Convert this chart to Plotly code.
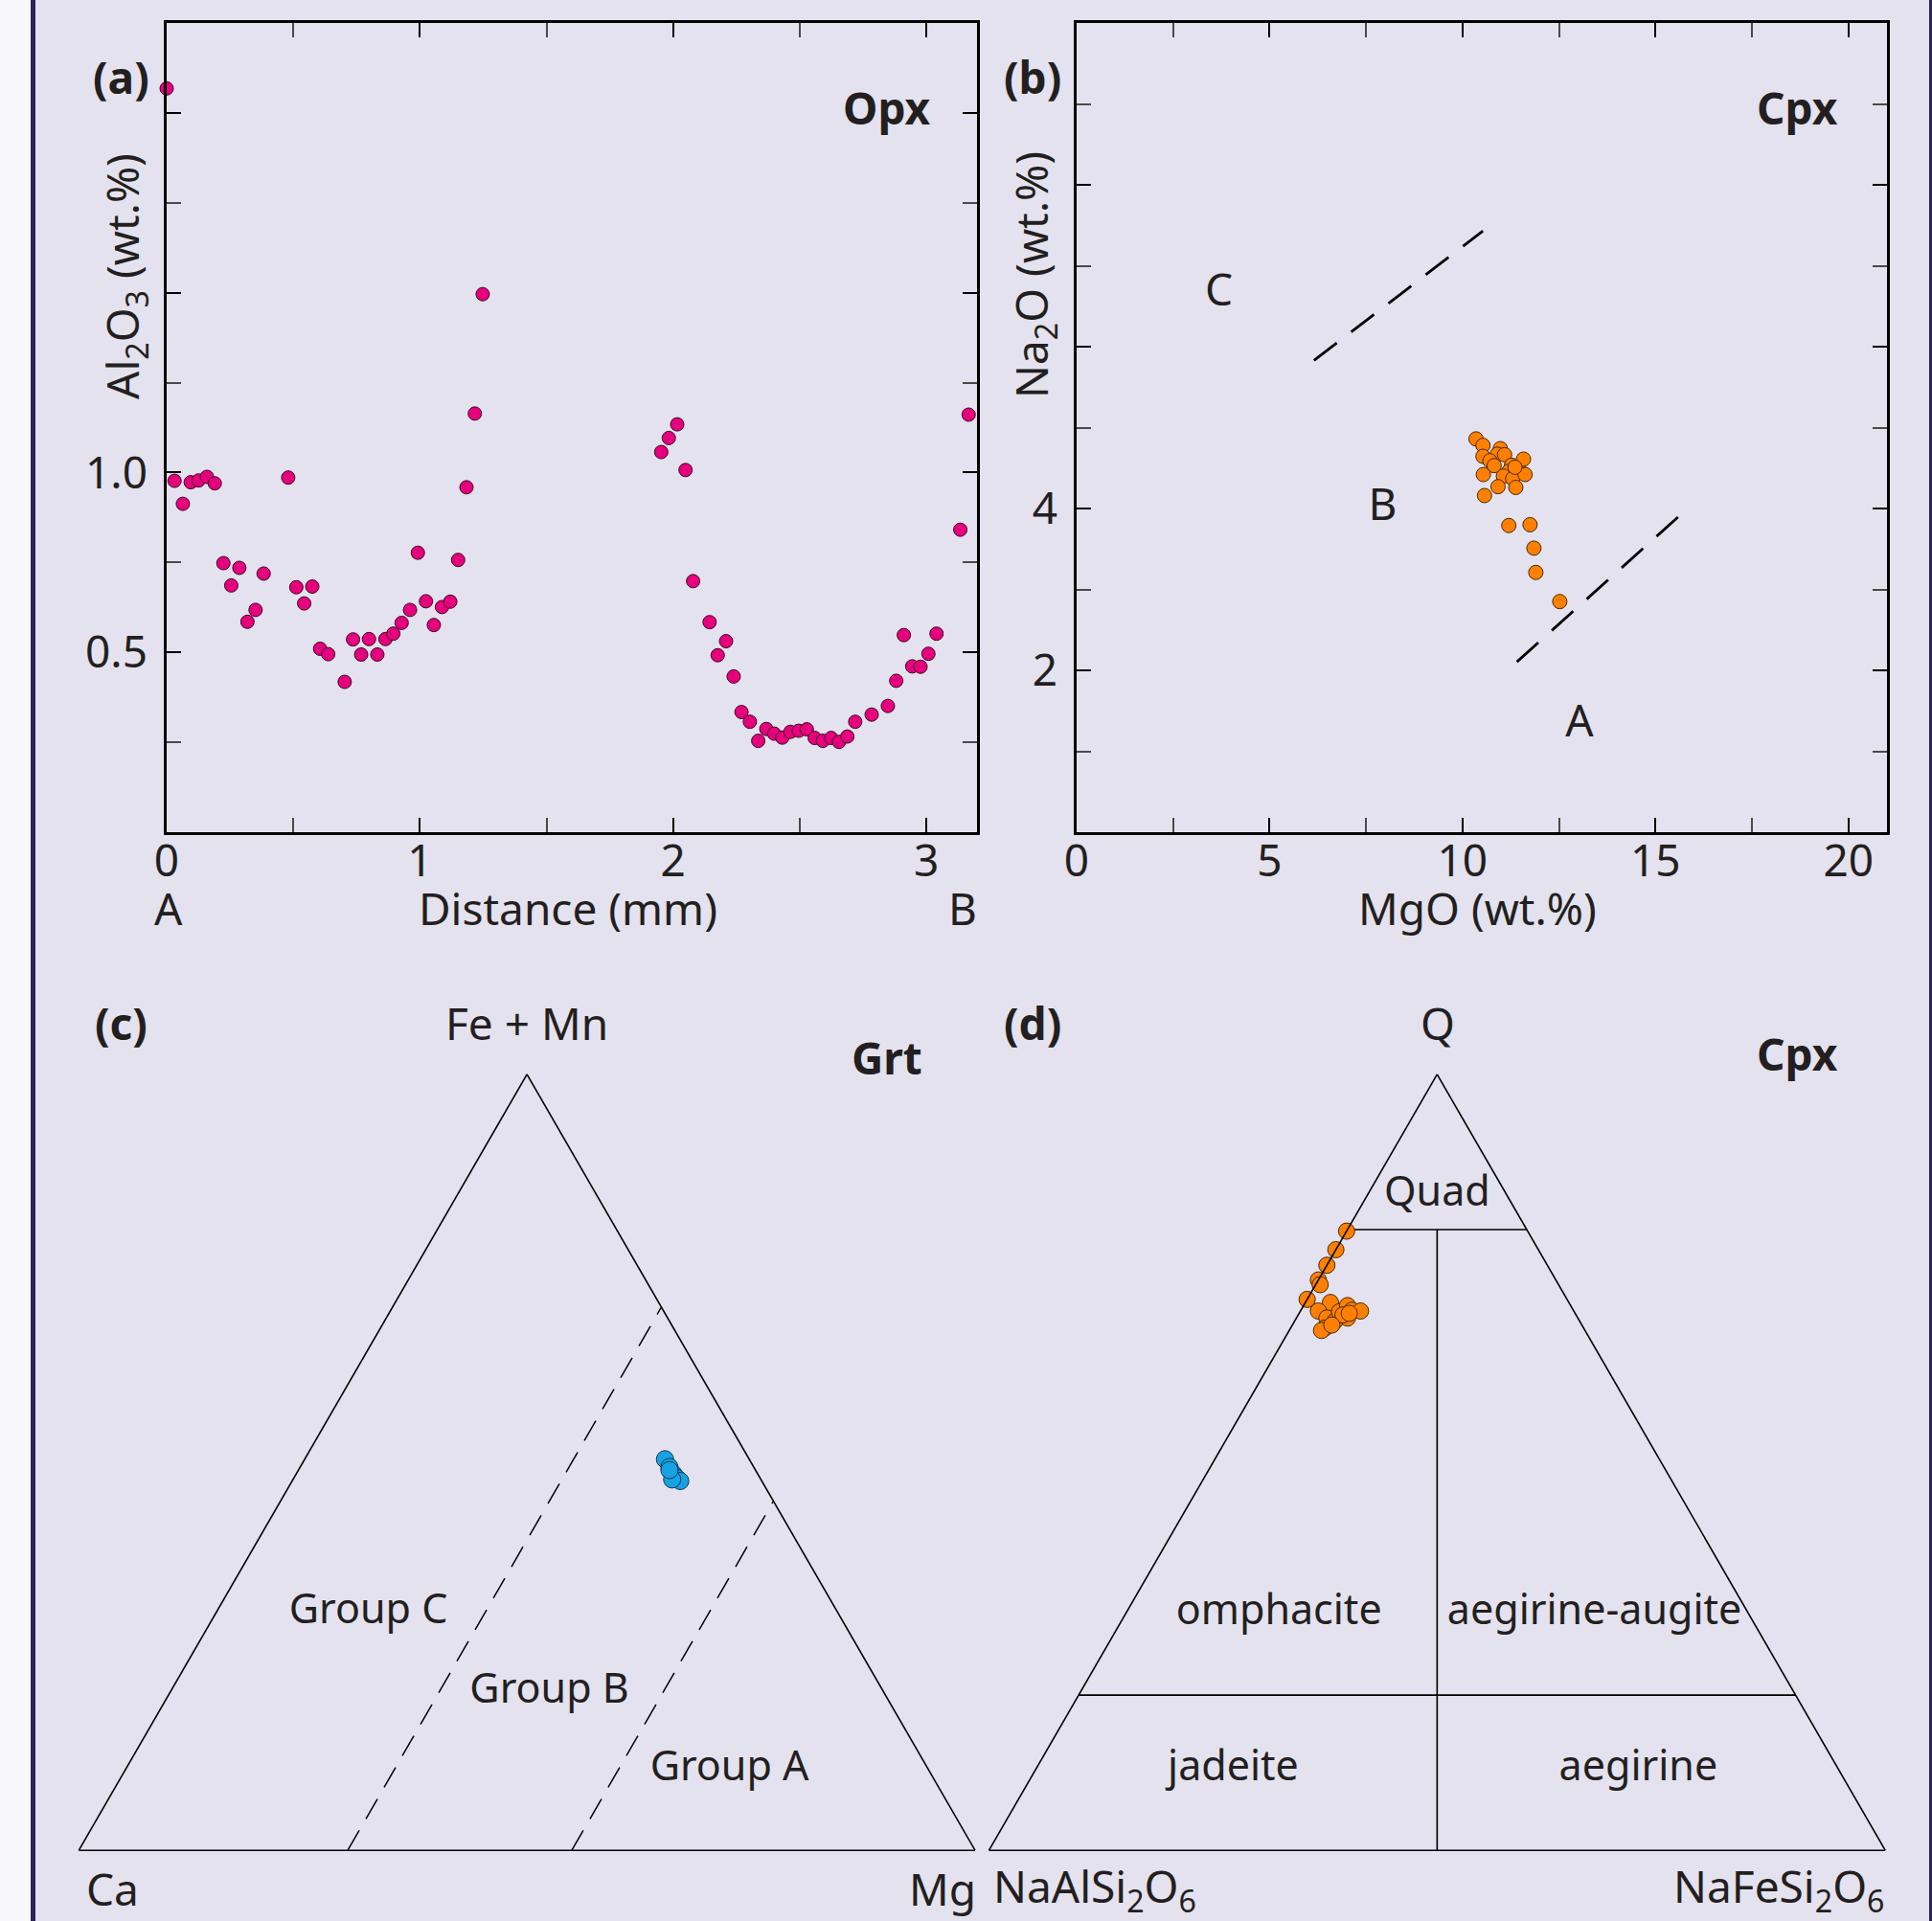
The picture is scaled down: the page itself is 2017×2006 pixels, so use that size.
import plotly.graph_objects as go

W, H = 2017, 2006
FONT = "Noto Sans"
TXT = "#231f20"
BG = "#e4e2ee"

# ---------------- Panel (a): Opx Al2O3 profile ----------------
dist_mm = [0, 0.031, 0.064, 0.095, 0.126, 0.159, 0.19, 0.224, 0.255, 0.287, 0.319, 0.351, 0.383,
           0.480, 0.512, 0.543, 0.575, 0.606, 0.638, 0.703, 0.736, 0.768, 0.799, 0.832, 0.864,
           0.895, 0.928, 0.961, 0.992, 1.024, 1.055, 1.087, 1.12, 1.151, 1.184, 1.217, 1.248,
           1.953, 1.983, 2.016, 2.049, 2.079, 2.144, 2.176, 2.209, 2.239, 2.27, 2.303, 2.336,
           2.368, 2.399, 2.431, 2.463, 2.496, 2.528, 2.559, 2.591, 2.624, 2.655, 2.688, 2.719,
           2.784, 2.848, 2.881, 2.911, 2.944, 2.977, 3.008, 3.04, 3.134, 3.167]
al2o3 = [2.068, 0.977, 0.913, 0.973, 0.978, 0.988, 0.970, 0.748, 0.686, 0.735, 0.585, 0.618, 0.719,
         0.986, 0.681, 0.636, 0.683, 0.51, 0.495, 0.418, 0.536, 0.494, 0.537, 0.494, 0.537,
         0.552, 0.582, 0.618, 0.777, 0.642, 0.576, 0.626, 0.641, 0.757, 0.959, 1.164, 1.496,
         1.057, 1.096, 1.134, 1.007, 0.698, 0.584, 0.492, 0.531, 0.433, 0.334, 0.307, 0.254,
         0.287, 0.274, 0.263, 0.279, 0.282, 0.286, 0.262, 0.254, 0.262, 0.251, 0.266, 0.307,
         0.327, 0.351, 0.421, 0.548, 0.461, 0.46, 0.496, 0.552, 0.841, 1.161]
a_x_range = [0, 3.2]
a_y_range = [0, 2.25]
a_x_ticks = [0, 1, 2, 3]
a_x_ticktext = ["0", "1", "2", "3"]
a_x_minor = [0.5, 1.5, 2.5]
a_y_ticks = [0, 0.5, 1.0, 1.5, 2.0]
a_y_ticktext = ["", "0.5", "1.0", "", ""]
a_y_minor = [0.25, 0.75, 1.25, 1.75]

# ---------------- Panel (b): Cpx Na2O vs MgO ----------------
mgo = [10.35, 10.53, 10.53, 10.98, 10.9, 11.09, 10.71, 10.82, 11.27, 11.45, 11.58, 11.2,
       11.06, 11.3, 11.62, 10.54, 10.92, 11.38, 10.57, 11.2, 11.75, 11.85, 11.9, 12.52, 11.36]
na2o = [4.86, 4.78, 4.645, 4.74, 4.67, 4.665, 4.59, 4.53, 4.535, 4.49, 4.61, 4.46,
        4.4, 4.37, 4.42, 4.42, 4.27, 4.26, 4.16, 3.79, 3.80, 3.51, 3.21, 2.85, 4.51]
b_div_upper_x = [6.15, 10.53]
b_div_upper_y = [5.83, 7.43]
b_div_lower_x = [11.41, 15.74]
b_div_lower_y = [2.105, 3.96]
b_field_labels = ["C", "B", "A"]
b_field_x = [3.69, 7.93, 13.03]
b_field_y = [6.65, 4.0, 1.32]
b_x_range = [0, 21]
b_y_range = [0, 10]
b_x_ticks = [0, 5, 10, 15, 20]
b_x_minor = [2.5, 7.5, 12.5, 17.5]
b_y_ticks = [0, 2, 4, 6, 8, 10]
b_y_ticktext = ["", "2", "4", "", "", ""]
b_y_minor = [1, 3, 5, 7, 9]

# ---------------- Panel (c): Grt ternary (Fe+Mn / Ca / Mg) ----------------
grt_femn = [50.4, 49.4, 48.5, 48.0, 47.6, 47.8, 49.0]
grt_ca = [9.4, 9.4, 9.4, 9.3, 9.1, 9.9, 9.6]
grt_mg = [40.2, 41.2, 42.1, 42.7, 43.3, 42.3, 41.4]
grt_line1 = dict(a=[0, 70], b=[70, 0], c=[30, 30])
grt_line2 = dict(a=[0, 45], b=[45, 0], c=[55, 55])
grt_labels = ["Group C", "Group B", "Group A"]
grt_lab_a = [30.6, 20.4, 10.4]
grt_lab_b = [52.4, 37.3, 22.2]
grt_lab_c = [17.0, 42.3, 67.4]

# ---------------- Panel (d): Cpx Q-Jd-Ae ternary ----------------
cpx_q = [79.8, 77.4, 75.4, 73.5, 72.9, 71.0, 70.6, 69.5, 68.6, 67.3, 68.2, 69.4, 70.2, 69.6,
         69.5, 68.6, 69.0, 67.0, 67.7, 69.2]
cpx_jd = [20.2, 22.6, 24.6, 26.5, 26.6, 29.0, 26.6, 28.5, 28.0, 28.9, 27.3, 26.2, 24.9, 24.7,
          23.8, 25.7, 26.0, 29.4, 27.9, 25.2]
cpx_ae = [0.0, 0.0, 0.0, 0.0, 0.5, 0.0, 2.8, 2.0, 3.4, 3.8, 4.5, 4.4, 4.9, 5.7,
          6.7, 5.7, 5.0, 3.6, 4.4, 5.6]
cpx_quad_line = dict(a=[80, 80], b=[20, 0], c=[0, 20])
cpx_mid_line = dict(a=[0, 80], b=[50, 10], c=[50, 10])
cpx_low_line = dict(a=[20, 20], b=[80, 0], c=[0, 80])
cpx_labels = ["Quad", "omphacite", "aegirine-augite", "jadeite", "aegirine"]
cpx_lab_a = [84.4, 30.5, 30.5, 10.3, 10.3]
cpx_lab_b = [7.8, 52.4, 17.2, 67.6, 22.4]
cpx_lab_c = [7.8, 17.1, 52.3, 22.1, 67.3]

# ---------------- helpers (pixel -> paper) ----------------
def px(x):
    return x / W


def py(y):
    return 1 - y / H


fig = go.Figure()

# (a)
fig.add_trace(go.Scatter(x=dist_mm, y=al2o3, mode="markers", xaxis="x", yaxis="y",
                         cliponaxis=False,
                         marker=dict(size=14, color="#e6007e", line=dict(color="#3a0820", width=1)),
                         showlegend=False))
# (b)
fig.add_trace(go.Scatter(x=b_div_upper_x, y=b_div_upper_y, mode="lines", xaxis="x2", yaxis="y2",
                         line=dict(color="black", width=2.8, dash="30px,19px"), showlegend=False))
fig.add_trace(go.Scatter(x=b_div_lower_x, y=b_div_lower_y, mode="lines", xaxis="x2", yaxis="y2",
                         line=dict(color="black", width=2.8, dash="30px,19px"), showlegend=False))
fig.add_trace(go.Scatter(x=b_field_x, y=b_field_y, mode="text", text=b_field_labels,
                         xaxis="x2", yaxis="y2", textposition="middle center",
                         textfont=dict(family=FONT, size=46, color=TXT), showlegend=False))
fig.add_trace(go.Scatter(x=mgo, y=na2o, mode="markers", xaxis="x2", yaxis="y2", cliponaxis=False,
                         marker=dict(size=15, color="#ff8000", line=dict(color="#4a2600", width=1)),
                         showlegend=False))

# (c)
for ln in (grt_line1, grt_line2):
    fig.add_trace(go.Scatterternary(a=ln["a"], b=ln["b"], c=ln["c"], mode="lines", subplot="ternary",
                                    line=dict(color="black", width=1.5, dash="24px,14px"),
                                    cliponaxis=False, showlegend=False))
fig.add_trace(go.Scatterternary(a=grt_lab_a, b=grt_lab_b, c=grt_lab_c, mode="text", text=grt_labels,
                                subplot="ternary", textposition="middle center", cliponaxis=False,
                                textfont=dict(family=FONT, size=43, color=TXT), showlegend=False))
fig.add_trace(go.Scatterternary(a=grt_femn, b=grt_ca, c=grt_mg, mode="markers", subplot="ternary",
                                cliponaxis=False,
                                marker=dict(size=18, color="#17a3e3", line=dict(color="#0b3550", width=1)),
                                showlegend=False))

# (d)
for ln in (cpx_quad_line, cpx_mid_line, cpx_low_line):
    fig.add_trace(go.Scatterternary(a=ln["a"], b=ln["b"], c=ln["c"], mode="lines", subplot="ternary2",
                                    line=dict(color="black", width=1.6), cliponaxis=False,
                                    showlegend=False))
fig.add_trace(go.Scatterternary(a=cpx_lab_a, b=cpx_lab_b, c=cpx_lab_c, mode="text", text=cpx_labels,
                                subplot="ternary2", textposition="middle center", cliponaxis=False,
                                textfont=dict(family=FONT, size=43, color=TXT), showlegend=False))
fig.add_trace(go.Scatterternary(a=cpx_q, b=cpx_jd, c=cpx_ae, mode="markers", subplot="ternary2",
                                cliponaxis=False,
                                marker=dict(size=17, color="#ff8000", line=dict(color="#4a2600", width=1)),
                                showlegend=False))

tickfont = dict(family=FONT, size=46, color=TXT)


def cart_axis(domain, rng, tickvals, ticktext, minorvals, anchor, standoff):
    return dict(domain=domain, range=rng, anchor=anchor, showgrid=False, zeroline=False,
                automargin=False,
                showline=True, linecolor="black", linewidth=2.6, mirror="allticks",
                ticks="inside", ticklen=15, tickwidth=2.4, tickcolor="black",
                tickmode="array", tickvals=tickvals, ticktext=ticktext,
                tickfont=tickfont, ticklabelstandoff=standoff,
                minor=dict(ticks="inside", ticklen=15, tickwidth=2, tickcolor="#4a4a4a",
                           tickmode="array", tickvals=minorvals, showgrid=False))


A_L, A_R, B_L, B_R, TOP, BOT = 174, 1020, 1124, 1970, 24, 869

tern_axis = dict(showticklabels=False, ticks="", showgrid=False, linecolor="black", linewidth=1.6,
                 title=dict(text=""))

fig.update_layout(
    template="none",
    width=W, height=H, margin=dict(l=0, r=0, t=0, b=0, pad=0),
    paper_bgcolor=BG, plot_bgcolor="rgba(0,0,0,0)",
    font=dict(family=FONT, color=TXT),
    xaxis=cart_axis([px(A_L), px(A_R)], a_x_range, a_x_ticks, a_x_ticktext, a_x_minor, "y", -12),
    yaxis=cart_axis([py(BOT), py(TOP)], a_y_range, a_y_ticks, a_y_ticktext, a_y_minor, "x", 8),
    xaxis2=cart_axis([px(B_L), px(B_R)], b_x_range, b_x_ticks, [str(v) for v in b_x_ticks], b_x_minor,
                     "y2", -12),
    yaxis2=cart_axis([py(BOT), py(TOP)], b_y_range, b_y_ticks, b_y_ticktext, b_y_minor, "x2", 8),
    ternary=dict(domain=dict(x=[px(82.1), px(1018.2)], y=[py(1932.2), py(1121.9)]),
                 sum=100, bgcolor="rgba(0,0,0,0)",
                 aaxis=tern_axis, baxis=tern_axis, caxis=tern_axis),
    ternary2=dict(domain=dict(x=[px(1032.4), px(1968.3)], y=[py(1932.2), py(1121.9)]),
                  sum=100, bgcolor="rgba(0,0,0,0)",
                  aaxis=tern_axis, baxis=tern_axis, caxis=tern_axis),
)

# page frame
fig.add_shape(type="rect", xref="paper", yref="paper", x0=0, x1=px(32), y0=0, y1=1,
              fillcolor="#f8f8fc", line=dict(width=0), layer="below")
fig.add_shape(type="rect", xref="paper", yref="paper", x0=px(32), x1=px(37), y0=0, y1=1,
              fillcolor="#2b2261", line=dict(width=0), layer="below")
fig.add_shape(type="rect", xref="paper", yref="paper", x0=px(2014), x1=1, y0=0, y1=1,
              fillcolor="#2b2261", line=dict(width=0), layer="below")

annos = [
    ("<b>(a)</b>", 126, 80, 0), ("<b>(b)</b>", 1078, 80, 0),
    ("<b>(c)</b>", 126, 1068, 0), ("<b>(d)</b>", 1078, 1068, 0),
    ("<b>Opx</b>", 926, 112, 0), ("<b>Cpx</b>", 1876, 112, 0),
    ("<b>Grt</b>", 926, 1104, 0), ("<b>Cpx</b>", 1876, 1100, 0),
    ("Al<sub>2</sub>O<sub>3</sub> (wt.%)", 130, 289, -90),
    ("Na<sub>2</sub>O (wt.%)", 1079, 287, -90),
    ("Distance (mm)", 593, 948, 0), ("A", 176, 948, 0), ("B", 1005, 948, 0),
    ("MgO (wt.%)", 1542, 948, 0),
    ("Fe + Mn", 550, 1068, 0), ("Ca", 117, 1972, 0), ("Mg", 984, 1972, 0),
    ("Q", 1501, 1068, 0), ("NaAlSi<sub>2</sub>O<sub>6</sub>", 1143, 1972, 0),
    ("NaFeSi<sub>2</sub>O<sub>6</sub>", 1857, 1972, 0),
]
for text, x, y, ang in annos:
    fig.add_annotation(text=text, x=px(x), y=py(y), xref="paper", yref="paper",
                       xanchor="center", yanchor="middle", showarrow=False, textangle=ang,
                       font=dict(family=FONT, size=46, color=TXT))

fig.write_html("out.html", config={"displayModeBar": False},
               post_script="document.body.style.margin='0';document.body.style.overflow='hidden';")
